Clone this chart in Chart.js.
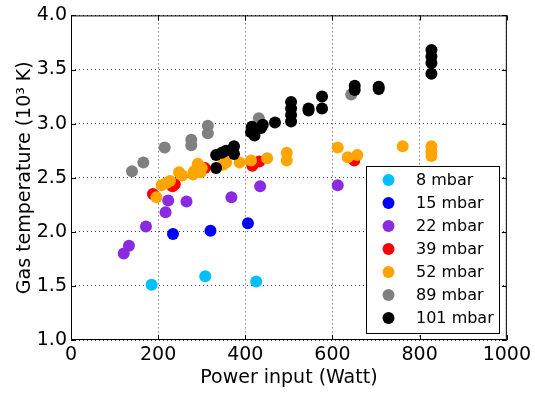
<!DOCTYPE html>
<html>
<head>
<meta charset="utf-8">
<script src="https://cdn.jsdelivr.net/npm/chart.js@4"></script>
<style>
  html, body { margin: 0; padding: 0; background: #fff; }
  #wrap { width: 535px; height: 394px; }
</style>
</head>
<body>
<div id="wrap"><canvas id="chart" width="535" height="394"></canvas></div>
<script>
/* Gas temperature vs power input */

const seriesLabels = ["8 mbar", "15 mbar", "22 mbar", "39 mbar", "52 mbar", "89 mbar", "101 mbar"];
const seriesColors = ["#00bfff", "#0000ff", "#8a2be2", "#ff0000", "#ffa500", "#808080", "#000000"];

const xTicks = [0, 200, 400, 600, 800, 1000];
const yTicks = [1.0, 1.5, 2.0, 2.5, 3.0, 3.5, 4.0];

// [power (W), temperature (10^3 K)]
const p8 = [[185, 1.51], [308, 1.59], [425, 1.54]];
const p15 = [[234, 1.98], [320, 2.01], [406, 2.08]];
const p22 = [[121, 1.80], [133, 1.87], [172, 2.05], [217, 2.18], [223, 2.29], [265, 2.28],
  [368, 2.32], [434, 2.42], [612, 2.43]];
const p39 = [[188, 2.35], [233, 2.42], [238, 2.44], [307, 2.59], [416, 2.61], [432, 2.65], [650, 2.66]];
const p52 = [[196, 2.32], [208, 2.43], [219, 2.45], [227, 2.47], [248, 2.55], [255, 2.52],
  [280, 2.53], [282, 2.56], [289, 2.57], [291, 2.63], [294, 2.60], [297, 2.55], [300, 2.59],
  [349, 2.62], [356, 2.64], [387, 2.64], [413, 2.66], [450, 2.68], [495, 2.73], [495, 2.66],
  [612, 2.78], [635, 2.69], [657, 2.71], [761, 2.79], [827, 2.79], [827, 2.74], [827, 2.70]];
const p89 = [[140, 2.56], [166, 2.64], [215, 2.78], [276, 2.80], [276, 2.85], [314, 2.91],
  [314, 2.98], [431, 3.05], [643, 3.27]];
const p101 = [[333, 2.59], [333, 2.71], [346, 2.73], [356, 2.75], [374, 2.72], [374, 2.79],
  [413, 2.92], [415, 2.97], [421, 2.89], [436, 2.96], [440, 2.99], [468, 3.01],
  [505, 3.02], [505, 3.08], [505, 3.14], [505, 3.20], [545, 3.12], [545, 3.14],
  [576, 3.14], [576, 3.25], [651, 3.31], [651, 3.35], [706, 3.32], [706, 3.34],
  [827, 3.46], [827, 3.56], [827, 3.62], [827, 3.68]];

const allSeries = [p8, p15, p22, p39, p52, p89, p101];

const FONT = "'DejaVu Sans', sans-serif";
const MARK_R = 6;

const datasets = allSeries.map((pts, i) => ({
  label: seriesLabels[i],
  data: pts.map(([x, y]) => ({ x, y })),
  backgroundColor: seriesColors[i],
  borderColor: seriesColors[i],
  borderWidth: 0,
  pointRadius: MARK_R,
  pointHoverRadius: MARK_R,
  order: allSeries.length - i,
}));

// frame, inward ticks, axis titles and legend box
const decorations = {
  id: "decorations",
  afterDraw(chart) {
    const { ctx, chartArea: a, scales } = chart;
    ctx.save();

    ctx.strokeStyle = "#000";
    ctx.lineWidth = 1;
    ctx.setLineDash([]);
    ctx.beginPath();
    xTicks.forEach((v) => {
      const px = Math.round(scales.x.getPixelForValue(v)) + 0.5;
      ctx.moveTo(px, a.bottom); ctx.lineTo(px, a.bottom - 5);
      ctx.moveTo(px, a.top); ctx.lineTo(px, a.top + 5);
    });
    yTicks.forEach((v) => {
      const py = Math.round(scales.y.getPixelForValue(v)) + 0.5;
      ctx.moveTo(a.left, py); ctx.lineTo(a.left + 5, py);
      ctx.moveTo(a.right, py); ctx.lineTo(a.right - 5, py);
    });
    ctx.stroke();
    ctx.strokeRect(a.left + 0.5, a.top + 0.5, a.right - a.left - 1, a.bottom - a.top - 1);

    // axis titles
    ctx.fillStyle = "#000";
    ctx.font = `19px ${FONT}`;
    ctx.textAlign = "center";
    ctx.textBaseline = "alphabetic";
    ctx.fillText("Power input (Watt)", (a.left + a.right) / 2, 383);

    ctx.save();
    ctx.translate(30, (a.top + a.bottom) / 2);
    ctx.rotate(-Math.PI / 2);
    ctx.fillText("Gas temperature (10³ K)", 0, 0);
    ctx.restore();

    // legend
    const lx = 366, ly = 166, lw = 133, lh = 167, step = 23;
    ctx.fillStyle = "#fff";
    ctx.fillRect(lx, ly, lw, lh);
    ctx.strokeStyle = "#000";
    ctx.strokeRect(lx + 0.5, ly + 0.5, lw, lh);
    ctx.font = `16px ${FONT}`;
    ctx.textAlign = "left";
    ctx.textBaseline = "middle";
    seriesLabels.forEach((label, i) => {
      const cy = ly + 14 + i * step;
      ctx.fillStyle = seriesColors[i];
      ctx.beginPath();
      ctx.arc(lx + 22.5, cy, MARK_R, 0, Math.PI * 2);
      ctx.fill();
      ctx.fillStyle = "#000";
      ctx.fillText(label, lx + 50, cy + 1);
    });

    ctx.restore();
  },
};

new Chart(document.getElementById("chart"), {
  type: "scatter",
  data: { datasets },
  options: {
    responsive: false,
    animation: false,
    events: [],
    layout: { padding: { left: 0, top: 13, right: 27, bottom: 0 } },
    scales: {
      x: {
        type: "linear",
        min: 0,
        max: 1000,
        afterBuildTicks: (s) => { s.ticks = xTicks.map((v) => ({ value: v })); },
        afterFit: (s) => { s.height = 54; },
        ticks: {
          color: "#000",
          padding: 4,
          font: { family: FONT, size: 19 },
          maxRotation: 0,
          callback: (v) => String(v),
        },
        grid: { color: "rgba(0,0,0,0.75)", drawTicks: false, lineWidth: 1 },
        border: { display: false, dash: [1, 3] },
      },
      y: {
        type: "linear",
        min: 1,
        max: 4,
        afterBuildTicks: (s) => { s.ticks = yTicks.map((v) => ({ value: v })); },
        afterFit: (s) => { s.width = 71; },
        ticks: {
          color: "#000",
          padding: 4,
          font: { family: FONT, size: 19 },
          callback: (v) => Number(v).toFixed(1),
        },
        grid: { color: "rgba(0,0,0,0.75)", drawTicks: false, lineWidth: 1 },
        border: { display: false, dash: [1, 3] },
      },
    },
    plugins: {
      legend: { display: false },
      tooltip: { enabled: false },
    },
  },
  plugins: [decorations],
});
</script>
</body>
</html>
